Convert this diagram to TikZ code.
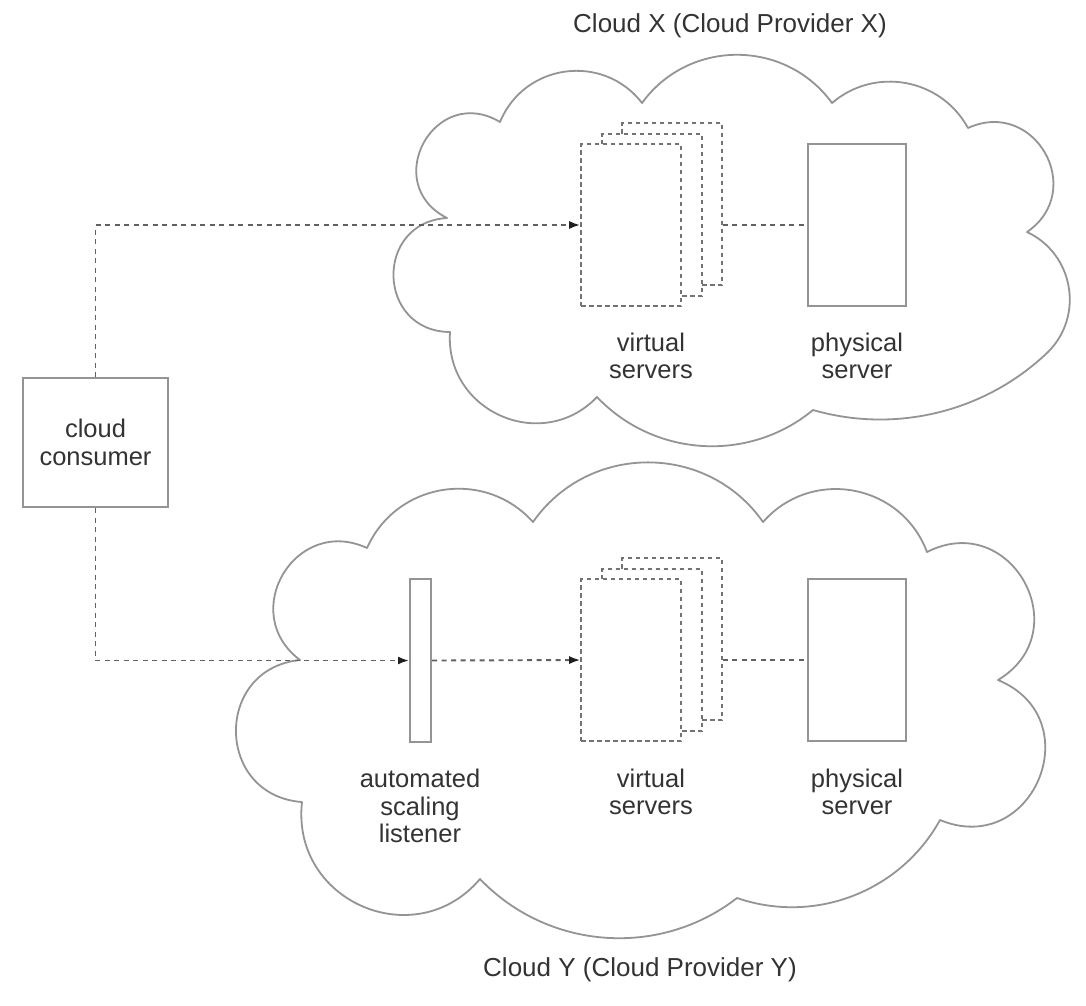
\documentclass[tikz,border=0pt]{standalone}
\usepackage{fontspec}
\setmainfont{Liberation Sans}
\usetikzlibrary{arrows.meta}
\tikzset{
  bump/.code={\pgfmathsetmacro\bmpL{(2/3)*tan(#1/2)/sin(#1)/0.3915}%
    \edef\bmptmp{\noexpand\tikzset{bend left=#1,looseness=\bmpL}}\bmptmp},
  cloudline/.style={draw=black!42, line width=1.8pt, fill=white, line join=round},
  sbox/.style={draw=black!42, line width=2pt, fill=white, inner sep=0pt},
  vbox/.style={draw=black!55, dash pattern=on 4.5pt off 3.5pt, line width=1.6pt, fill=white,
    minimum width=100pt, minimum height=162pt, inner sep=0pt},
  conn/.style={draw=black!62, dash pattern=on 5pt off 4.5pt, line width=1.9pt},
  tip/.style={-{Latex[length=11pt,width=8pt,color=black!88]}},
  lbl/.style={text=black!80, align=center, font=\fontsize{25.5}{27.5}\selectfont},
  ttl/.style={text=black!80, font=\fontsize{26}{28}\selectfont}
}
\begin{document}
\begin{tikzpicture}[x=1pt,y=-1pt]
\useasboundingbox (0,0) rectangle (1086,1005);
\fill[white] (0,0) rectangle (1086,1005);

% Cloud X
\path[cloudline] (447,218) to[bump=92] (500,122) to[bump=60] (642,103)
  to[bump=54] (832,103) to[bump=51] (968,128) to[bump=85] (1027,232)
  to[bump=55] (1048,352) to[bump=30] (813,410) to[bump=43] (597,397)
  to[bump=70] (450,332) to[bump=88] (447,218) -- cycle;

% Cloud Y
\path[cloudline] (302,802) to[bump=85] (300,660) to[bump=84] (367,548)
  to[bump=57] (533,522) to[bump=55] (763,522) to[bump=59] (927,552)
  to[bump=88] (998,680) to[bump=90] (940,820) to[bump=40] (737,898)
  to[bump=42] (480,879) to[bump=73] (302,802) -- cycle;

% titles
\node[ttl] (tx) at (730,26) {Cloud X (Cloud Provider X)};
\node[ttl] (ty) at (640,970) {Cloud Y (Cloud Provider Y)};

% cloud consumer
\node[sbox, lbl, minimum width=145pt, minimum height=129pt] (cons) at (95.5,442.5) {cloud\\consumer};

% Cloud X servers
\node[vbox] (vxb) at (672,204) {};
\node[vbox] (vxm) at (652,215) {};
\node[vbox] (vxf) at (631,225) {};
\node[sbox, minimum width=98pt, minimum height=162pt] (psx) at (857,225) {};

% Cloud Y servers
\node[sbox, minimum width=21pt, minimum height=163pt] (lis) at (420.5,660.5) {};
\node[vbox] (vyb) at (672,639) {};
\node[vbox] (vym) at (652,650) {};
\node[vbox] (vyf) at (631,660) {};
\node[sbox, minimum width=98pt, minimum height=162pt] (psy) at (857,660) {};

% connectors
\draw[conn, tip] (cons.north) |- (vxf.west);
\draw[conn] (vxb.east |- psx.west) -- (psx.west);
\draw[conn, tip] (cons.south) |- (lis.west);
\draw[conn, tip] (lis.east) -- (vyf.west);
\draw[conn] (vyb.east |- psy.west) -- (psy.west);

% labels
\node[lbl] (lvx) at (651,356) {virtual\\servers};
\node[lbl] (lpx) at (857,356) {physical\\server};
\node[lbl] (lli) at (420,806) {automated\\scaling\\listener};
\node[lbl] (lvy) at (651,792) {virtual\\servers};
\node[lbl] (lpy) at (857,792) {physical\\server};
\end{tikzpicture}
\end{document}
